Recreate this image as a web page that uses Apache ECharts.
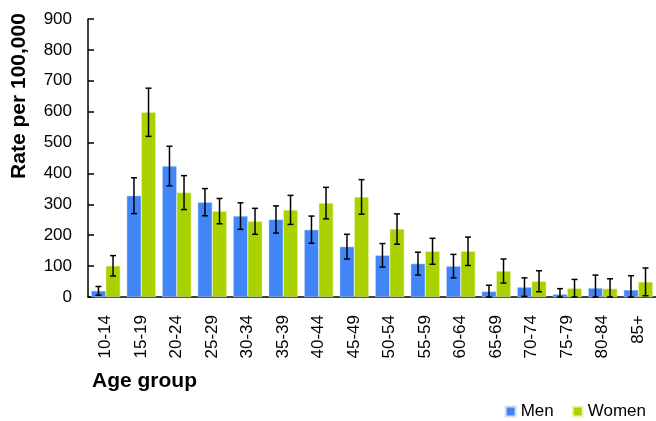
<!DOCTYPE html>
<html><head><meta charset="utf-8">
<script src="https://cdn.jsdelivr.net/npm/echarts@6/dist/echarts.min.js"></script>
<style>html,body{margin:0;padding:0;background:#fff}#c{width:656px;height:421px}</style>
</head><body><div id="c"></div>
<script>
var categories = ['10-14','15-19','20-24','25-29','30-34','35-39','40-44','45-49','50-54','55-59','60-64','65-69','70-74','75-79','80-84','85+'];
var menValues   = [20, 328, 424, 307, 262, 251, 218, 163, 135, 108, 100, 18, 32, 9, 29, 23];
var menErr      = [14, 58, 64, 44, 43, 44, 44, 40, 38, 37, 38, 20, 30, 18, 42, 46];
var womenValues = [101, 598, 338, 278, 245, 282, 304, 324, 220, 148, 148, 84, 51, 28, 27, 49];
var womenErr    = [33, 78, 55, 41, 42, 47, 51, 56, 49, 42, 46, 39, 34, 29, 32, 45];
var yTicks = [0, 100, 200, 300, 400, 500, 600, 700, 800, 900];

var FONT = '"Liberation Sans", Arial, sans-serif';
var chart = echarts.init(document.getElementById('c'), null, {renderer: 'canvas'});

function errData(vals, errs) {
  return vals.map(function (v, i) { return [i, Math.max(0, v - errs[i]), v + errs[i]]; });
}
function errSeries(name, vals, errs, side) {
  return {
    type: 'custom', name: name + ' error', z: 10, silent: true,
    data: errData(vals, errs),
    renderItem: function (params, api) {
      var band = api.size([1, 0])[0];
      var off = side * band * 0.205;
      var lo = api.coord([api.value(0), api.value(1)]);
      var hi = api.coord([api.value(0), api.value(2)]);
      var x = lo[0] + off, cap = 3;
      var st = {stroke: '#000', lineWidth: 1.5};
      return {type: 'group', children: [
        {type: 'line', shape: {x1: x, y1: lo[1], x2: x, y2: hi[1]}, style: st},
        {type: 'line', shape: {x1: x - cap, y1: lo[1], x2: x + cap, y2: lo[1]}, style: st},
        {type: 'line', shape: {x1: x - cap, y1: hi[1], x2: x + cap, y2: hi[1]}, style: st}
      ]};
    }
  };
}

chart.setOption({
  animation: false,
  backgroundColor: '#fff',
  grid: {left: 88, right: 0, top: 19, bottom: 124, containLabel: false},
  legend: {
    data: ['Men', 'Women'], right: 5, top: 398, itemWidth: 10, itemHeight: 10, itemGap: 18,
    icon: 'rect', textStyle: {fontFamily: FONT, fontSize: 17, color: '#000'}
  },
  xAxis: {
    type: 'category', data: categories,
    axisLine: {lineStyle: {color: '#000', width: 1.5}},
    axisTick: {inside: true, length: 5, lineStyle: {color: '#000', width: 1.5}},
    axisLabel: {rotate: 90, margin: 18, fontFamily: FONT, fontSize: 17, color: '#000', interval: 0}
  },
  yAxis: {
    type: 'value', min: yTicks[0], max: yTicks[yTicks.length - 1], interval: 100,
    splitLine: {show: false},
    axisLine: {show: true, lineStyle: {color: '#000', width: 1.5}},
    axisTick: {show: true, inside: true, length: 6, lineStyle: {color: '#000', width: 1.5}},
    axisLabel: {margin: 16, fontFamily: FONT, fontSize: 17, color: '#000'}
  },
  graphic: [
    {type: 'text', left: 92, top: 371, style: {text: 'Age group', font: 'bold 21px ' + FONT, fill: '#000'}},
    {type: 'text', x: 19, y: 96, rotation: Math.PI / 2,
     style: {text: 'Rate per 100,000', font: 'bold 21px ' + FONT, fill: '#000', align: 'center', verticalAlign: 'middle'}}
  ],
  series: [
    {name: 'Men', type: 'bar', data: menValues, barGap: '0%', barCategoryGap: '18%',
     itemStyle: {color: '#4285f6', borderColor: '#cfe0ff', borderWidth: 0.5}},
    {name: 'Women', type: 'bar', data: womenValues, barGap: '0%', barCategoryGap: '18%',
     itemStyle: {color: '#aad200', borderColor: '#eaf5b8', borderWidth: 0.5}},
    errSeries('Men', menValues, menErr, -1),
    errSeries('Women', womenValues, womenErr, 1)
  ]
});
</script></body></html>
